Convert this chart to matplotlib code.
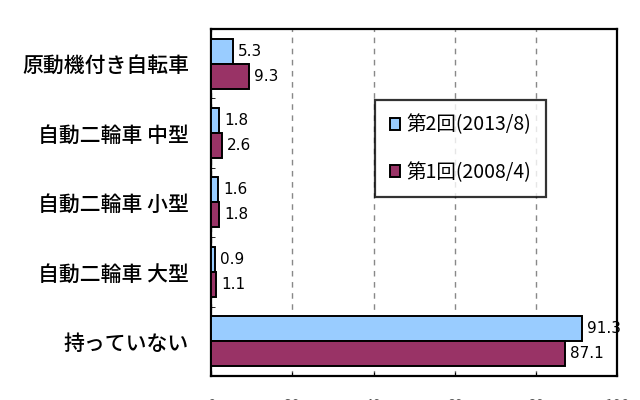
import matplotlib.pyplot as plt
import numpy as np

plt.rcParams['font.family'] = ['Noto Sans CJK JP', 'DejaVu Sans']

categories = ['原動機付き自転車', '自動二輪車 中型', '自動二輪車 小型', '自動二輪車 大型', '持っていない']
series_names = ['第2回(2013/8)', '第1回(2008/4)']
vals_2013 = [5.3, 1.8, 1.6, 0.9, 91.3]
vals_2008 = [9.3, 2.6, 1.8, 1.1, 87.1]
x_ticks = [0, 20, 40, 60, 80, 100]

fig = plt.figure(figsize=(6.4, 4.0), dpi=100)
ax = fig.add_axes([0.33, 0.06, 0.634, 0.868])

y = np.arange(len(categories))
h = 0.36

b1 = ax.barh(y - h / 2, vals_2013, height=h, color='#99CCFF', edgecolor='black',
             linewidth=1.4, label=series_names[0], zorder=3)
b2 = ax.barh(y + h / 2, vals_2008, height=h, color='#993366', edgecolor='black',
             linewidth=1.4, label=series_names[1], zorder=3)

ax.bar_label(b1, fmt='%.1f', padding=4, fontsize=11, family='DejaVu Sans')
ax.bar_label(b2, fmt='%.1f', padding=4, fontsize=11, family='DejaVu Sans')

ax.set_xlim(0, 100)
ax.set_ylim(len(categories) - 0.5, -0.5)
ax.set_yticks(y)
ax.set_yticklabels(categories, fontsize=15, fontweight='medium')
ax.tick_params(axis='y', length=0, pad=16)
ax.set_yticks(np.arange(-0.5, len(categories), 1), minor=True)
ax.tick_params(axis='y', which='minor', length=3, direction='in')

ax.set_xticks(x_ticks)
ax.set_xticklabels([str(t) for t in x_ticks], fontsize=11, color='#555555')
ax.tick_params(axis='x', length=3, direction='in', pad=16)

ax.grid(axis='x', color='#888888', linestyle=(0, (4, 4)), linewidth=1, zorder=0)

for s in ax.spines.values():
    s.set_linewidth(1.6)
    s.set_color('black')

leg = ax.legend(loc='upper left', bbox_to_anchor=(0.404, 0.795), borderaxespad=0,
                frameon=True, fancybox=False, edgecolor='black', fontsize=14,
                handlelength=0.55, handleheight=0.55, labelspacing=1.35,
                borderpad=0.75, handletextpad=0.3)
leg.get_frame().set_linewidth(1.6)

fig.savefig('out.png', dpi=100)
